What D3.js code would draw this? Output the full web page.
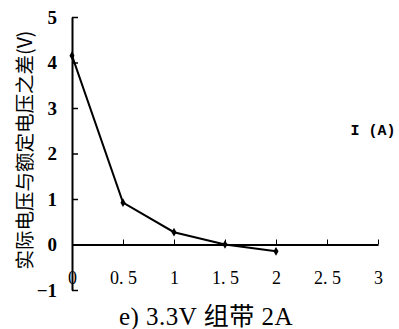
<!DOCTYPE html>
<html>
<head>
<meta charset="utf-8">
<script src="https://cdn.jsdelivr.net/npm/d3@7"></script>
<style>
  body { margin: 0; background: #fff; }
  svg { display: block; }
</style>
</head>
<body>
<svg id="chart" width="399" height="329"></svg>
<script>
// current (A) vs. voltage difference (V)
const currents = [0, 0.5, 1, 1.5, 2];
const voltDiff = [4.15, 0.92, 0.27, 0.0, -0.15];
const xTicks = [0, 0.5, 1, 1.5, 2, 2.5, 3];
const xTickLabels = ['0', '0. 5', '1', '1. 5', '2', '2. 5', '3'];
const yTicks = [-1, 0, 1, 2, 3, 4, 5];

const svg = d3.select('#chart');

const x = d3.scaleLinear().domain([0, 3]).range([72, 378]);
const y = d3.scaleLinear().domain([-1, 5]).range([290, 17]);

// y axis, ticks point inward
const yAxis = svg.append('g')
    .attr('transform', `translate(${x(0)},0)`)
    .call(d3.axisLeft(y)
        .tickValues(yTicks)
        .tickSizeInner(-6)
        .tickSizeOuter(0)
        .tickPadding(15)
        .tickFormat(d => d < 0 ? '\u22121' : d));
yAxis.select('.domain').attr('stroke', '#000').attr('stroke-width', 2);
yAxis.selectAll('.tick line').attr('stroke', '#000').attr('stroke-width', 1.5);
yAxis.selectAll('.tick text')
    .attr('fill', '#000')
    .style('font-family', '"Liberation Serif", serif')
    .style('font-weight', 'bold')
    .style('font-size', '19px');

// x axis on the zero line
const xAxis = svg.append('g')
    .attr('transform', `translate(0,${y(0)})`)
    .call(d3.axisBottom(x)
        .tickValues(xTicks)
        .tickSizeInner(-5)
        .tickSizeOuter(0)
        .tickPadding(27)
        .tickFormat((d, i) => xTickLabels[i]));
xAxis.select('.domain').attr('stroke', '#000').attr('stroke-width', 2);
xAxis.selectAll('.tick line').attr('stroke', '#000').attr('stroke-width', 1);
xAxis.selectAll('.tick text')
    .attr('fill', '#000')
    .style('font-family', '"Liberation Serif", serif')
    .style('font-size', '18px');

// data line
const pts = currents.map((c, i) => [c, voltDiff[i]]);
svg.append('path')
    .datum(pts)
    .attr('fill', 'none')
    .attr('stroke', '#000')
    .attr('stroke-width', 2)
    .attr('d', d3.line().x(d => x(d[0])).y(d => y(d[1])));

svg.selectAll('.pt')
    .data(pts)
    .join('path')
    .attr('class', 'pt')
    .attr('transform', d => `translate(${x(d[0])},${y(d[1])})`)
    .attr('d', d3.symbol(d3.symbolDiamond, 22)())
    .attr('fill', '#000');

// axis titles
svg.append('text')
    .attr('transform', 'translate(23,150) rotate(-90)')
    .attr('text-anchor', 'middle')
    .attr('dominant-baseline', 'central')
    .style('font-family', '"Noto Sans CJK SC", sans-serif')
    .style('font-size', '19.5px')
    .text('实际电压与额定电压之差(V)');

svg.append('text')
    .attr('x', 373)
    .attr('y', 135)
    .attr('text-anchor', 'middle')
    .style('font-family', '"Liberation Mono", monospace')
    .style('font-weight', 'bold')
    .style('font-size', '15px')
    .text('I (A)');

svg.append('text')
    .attr('x', 206)
    .attr('y', 325)
    .attr('text-anchor', 'middle')
    .style('font-family', '"Liberation Serif", "Noto Sans CJK SC", serif')
    .style('font-size', '25px')
    .style('letter-spacing', '0.5px')
    .text('e) 3.3V 组带 2A');
</script>
</body>
</html>
